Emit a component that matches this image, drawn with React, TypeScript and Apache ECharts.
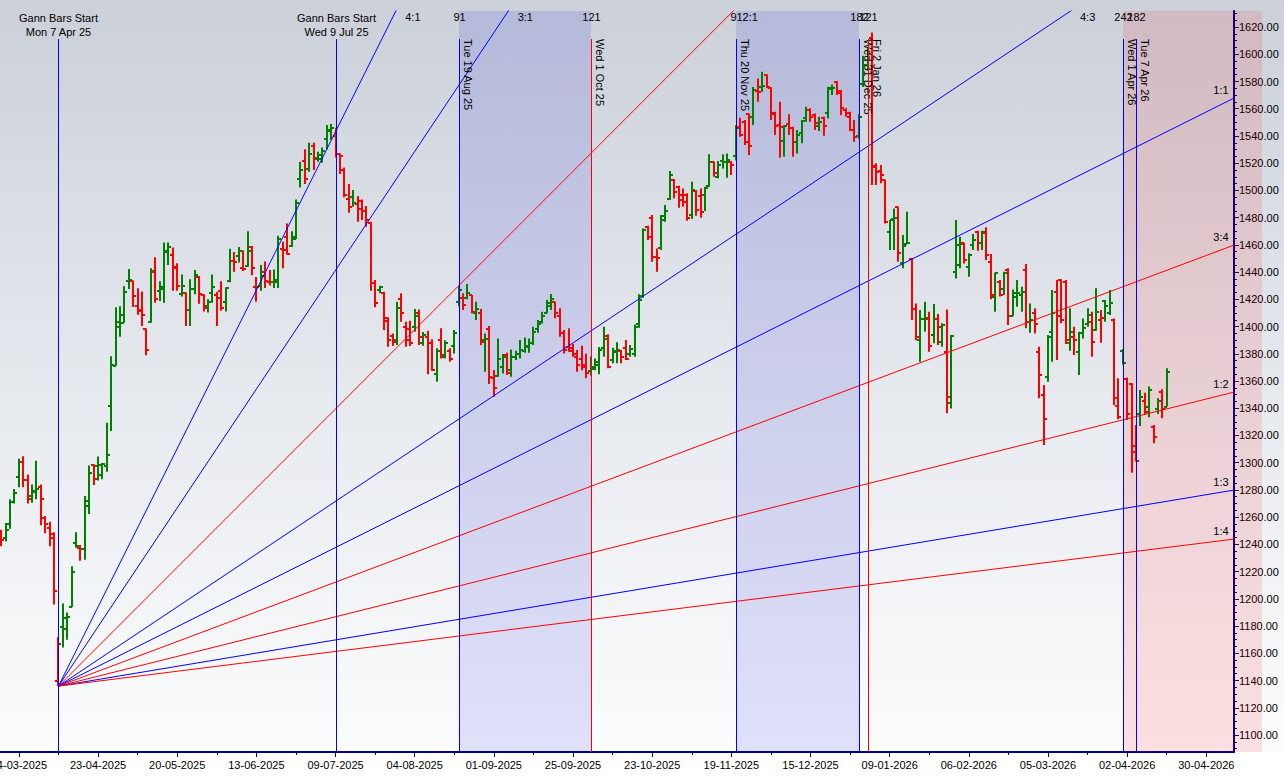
import React, { useEffect, useRef } from "react";
import * as echarts from "echarts";

// ---------- data ----------
const tickLabels = [
  "24-03-2025", "23-04-2025", "20-05-2025", "13-06-2025", "09-07-2025", "04-08-2025",
  "01-09-2025", "25-09-2025", "23-10-2025", "19-11-2025", "15-12-2025", "09-01-2026",
  "06-02-2026", "05-03-2026", "02-04-2026", "30-04-2026",
];
const tickIndex = [4, 22, 40, 58, 76, 94, 112, 130, 148, 166, 184, 202, 220, 238, 256, 274];
const minorTickIndex = [13, 31, 49, 67, 85, 103, 121, 139, 157, 175, 193, 211, 229, 247, 265];

// one bar per trading day starting 18-03-2025 : [open, high, low, close]
const ohlc: number[][] = [
  [1249.8, 1250.8, 1238.6, 1243.2], [1244.7, 1255.8, 1242.2, 1250.8], [1255.3, 1273.1, 1251.5, 1271.0],
  [1271.0, 1280.7, 1270.0, 1277.6], [1289.5, 1302.9, 1281.9, 1300.4], [1300.4, 1304.7, 1281.9, 1287.0],
  [1287.0, 1291.3, 1270.0, 1273.6], [1275.6, 1284.0, 1270.5, 1278.6], [1279.4, 1301.4, 1273.1, 1280.7],
  [1281.9, 1284.0, 1254.1, 1273.1], [1259.1, 1260.9, 1248.2, 1255.3], [1252.3, 1256.6, 1238.6, 1244.7],
  [1247.7, 1249.0, 1195.8, 1206.0], [1140.0, 1172.0, 1136.0, 1167.0], [1179.3, 1196.6, 1164.2, 1185.7],
  [1178.0, 1190.0, 1170.0, 1187.0], [1194.0, 1224.0, 1194.0, 1220.0], [1241.0, 1249.0, 1237.6, 1239.0],
  [1237.6, 1239.6, 1228.0, 1236.3], [1236.3, 1275.6, 1228.7, 1271.8], [1268.5, 1297.9, 1262.4, 1292.8],
  [1298.4, 1298.9, 1283.7, 1288.3], [1297.6, 1304.5, 1287.0, 1298.4], [1290.8, 1299.7, 1287.8, 1299.0],
  [1297.6, 1329.3, 1293.3, 1306.0], [1341.5, 1378.2, 1323.2, 1371.9], [1371.3, 1414.2, 1371.3, 1403.5],
  [1399.7, 1414.9, 1392.6, 1408.6], [1402.8, 1429.6, 1402.8, 1425.1], [1433.2, 1442.3, 1427.6, 1433.9],
  [1433.2, 1433.9, 1414.4, 1422.5], [1414.9, 1428.1, 1408.6, 1411.9], [1411.1, 1425.8, 1400.5, 1408.6],
  [1398.2, 1398.5, 1379.0, 1382.5], [1403.5, 1442.8, 1402.8, 1440.8], [1440.3, 1450.9, 1417.5, 1420.5],
  [1426.3, 1433.2, 1418.7, 1427.6], [1428.9, 1461.8, 1417.5, 1454.9], [1455.4, 1461.8, 1445.3, 1458.5],
  [1452.9, 1458.0, 1426.3, 1443.3], [1444.0, 1446.6, 1426.3, 1429.6], [1423.8, 1438.2, 1422.0, 1430.1],
  [1424.5, 1425.1, 1400.5, 1412.4], [1411.9, 1434.7, 1400.5, 1427.6], [1427.6, 1441.5, 1423.8, 1437.7],
  [1436.4, 1437.2, 1416.7, 1423.8], [1423.0, 1423.8, 1411.1, 1413.6], [1414.9, 1420.0, 1410.4, 1418.2],
  [1424.5, 1438.2, 1417.5, 1428.9], [1423.0, 1425.6, 1400.5, 1421.3], [1426.3, 1433.2, 1411.6, 1413.6],
  [1418.0, 1428.9, 1411.1, 1428.1], [1433.2, 1457.2, 1432.6, 1447.8], [1447.8, 1454.7, 1440.3, 1447.1],
  [1451.7, 1458.5, 1447.1, 1455.4], [1442.8, 1456.0, 1440.8, 1442.3], [1444.8, 1470.1, 1444.0, 1455.4],
  [1458.5, 1459.2, 1437.7, 1443.3], [1428.9, 1436.4, 1418.2, 1428.9], [1429.6, 1445.3, 1426.3, 1437.2],
  [1440.3, 1447.8, 1428.4, 1433.2], [1432.6, 1441.5, 1430.1, 1432.6], [1432.6, 1442.0, 1428.4, 1433.9],
  [1432.6, 1466.8, 1428.4, 1464.3], [1456.7, 1462.3, 1442.8, 1456.0], [1465.6, 1475.7, 1452.9, 1453.4],
  [1459.2, 1470.1, 1458.5, 1466.1], [1464.3, 1493.4, 1464.3, 1490.9], [1508.1, 1521.1, 1502.2, 1515.0],
  [1521.8, 1530.2, 1504.7, 1508.1], [1516.0, 1535.1, 1513.7, 1527.0], [1533.0, 1535.1, 1515.0, 1523.0],
  [1524.0, 1528.4, 1521.1, 1526.0], [1523.0, 1531.6, 1520.4, 1529.0], [1537.5, 1548.0, 1530.2, 1544.4],
  [1544.0, 1548.8, 1537.0, 1546.0], [1540.0, 1546.0, 1524.0, 1527.0], [1527.0, 1527.2, 1512.0, 1525.0],
  [1515.0, 1516.9, 1494.9, 1497.0], [1494.0, 1504.7, 1483.6, 1488.0], [1495.0, 1500.3, 1488.0, 1491.0],
  [1490.0, 1495.9, 1477.0, 1486.0], [1492.0, 1493.4, 1478.3, 1485.0], [1485.0, 1488.5, 1473.3, 1478.0],
  [1476.0, 1477.0, 1426.4, 1432.0], [1432.0, 1434.2, 1414.1, 1417.0], [1426.8, 1430.0, 1424.4, 1429.3],
  [1425.0, 1425.6, 1397.5, 1406.0], [1404.0, 1406.8, 1385.2, 1390.0], [1393.0, 1395.0, 1385.7, 1388.5],
  [1390.0, 1418.3, 1386.4, 1414.0], [1420.0, 1424.4, 1403.5, 1410.0], [1400.0, 1403.5, 1385.2, 1390.0],
  [1398.0, 1404.3, 1385.7, 1388.0], [1400.0, 1412.9, 1396.2, 1408.0], [1410.0, 1412.6, 1386.4, 1392.0],
  [1388.0, 1396.0, 1386.0, 1394.0], [1392.0, 1397.0, 1365.0, 1388.0], [1388.0, 1390.6, 1367.6, 1368.0],
  [1365.0, 1384.0, 1359.5, 1382.0], [1390.0, 1398.7, 1376.6, 1379.0], [1378.0, 1390.0, 1376.6, 1388.0],
  [1382.0, 1384.0, 1374.2, 1376.0], [1386.0, 1397.5, 1380.3, 1395.0], [1418.0, 1430.0, 1415.0, 1427.0],
  [1421.0, 1424.4, 1412.2, 1415.8], [1420.7, 1431.2, 1420.0, 1424.4], [1423.0, 1423.2, 1409.7, 1411.0],
  [1410.0, 1418.3, 1404.8, 1413.0], [1410.0, 1412.9, 1386.5, 1389.0], [1390.0, 1395.0, 1366.9, 1391.0],
  [1398.0, 1400.4, 1357.8, 1363.0], [1362.0, 1368.1, 1348.5, 1355.0], [1364.0, 1391.3, 1363.2, 1376.0],
  [1370.0, 1379.8, 1365.6, 1378.0], [1379.0, 1380.8, 1364.4, 1366.0], [1368.0, 1383.2, 1363.2, 1378.0],
  [1378.0, 1382.3, 1375.4, 1380.0], [1380.0, 1390.1, 1376.6, 1383.0], [1382.0, 1392.0, 1380.8, 1386.0],
  [1385.0, 1391.3, 1380.8, 1388.0], [1388.0, 1399.9, 1386.4, 1396.0], [1398.0, 1404.8, 1395.5, 1402.0],
  [1403.0, 1410.9, 1402.3, 1408.0], [1410.0, 1419.5, 1409.7, 1417.0], [1415.0, 1423.9, 1412.2, 1420.0],
  [1418.0, 1418.3, 1406.1, 1410.0], [1408.0, 1413.4, 1392.6, 1395.0], [1395.0, 1397.4, 1380.3, 1383.0],
  [1385.0, 1398.7, 1381.5, 1382.0], [1384.0, 1387.2, 1377.9, 1380.0], [1378.0, 1382.8, 1366.9, 1372.0],
  [1376.0, 1386.0, 1368.0, 1370.0], [1372.0, 1380.0, 1362.0, 1366.0], [1367.0, 1378.0, 1364.0, 1369.0],
  [1370.0, 1376.6, 1368.0, 1374.0], [1372.0, 1385.0, 1365.0, 1383.0], [1384.0, 1399.9, 1377.9, 1391.0],
  [1393.0, 1394.3, 1369.3, 1370.5], [1375.4, 1384.5, 1373.0, 1382.0], [1381.5, 1388.4, 1373.0, 1383.0],
  [1382.0, 1382.8, 1373.0, 1377.9], [1384.0, 1390.1, 1375.4, 1376.0], [1379.6, 1386.4, 1377.9, 1383.5],
  [1379.6, 1401.6, 1377.9, 1399.9], [1401.6, 1423.7, 1399.2, 1419.5], [1422.7, 1472.1, 1421.2, 1470.9],
  [1473.4, 1474.1, 1463.6, 1466.0], [1479.5, 1481.9, 1447.7, 1451.3], [1451.3, 1457.4, 1440.3, 1450.6],
  [1457.4, 1481.9, 1456.2, 1481.5], [1478.3, 1489.3, 1477.0, 1484.9], [1493.7, 1514.2, 1492.9, 1511.3],
  [1507.6, 1508.4, 1494.2, 1499.1], [1502.7, 1503.5, 1487.3, 1496.6], [1493.0, 1501.5, 1488.1, 1491.7],
  [1496.6, 1497.9, 1477.8, 1479.9], [1481.9, 1506.4, 1479.0, 1500.3], [1499.6, 1500.3, 1481.4, 1485.6],
  [1496.0, 1501.5, 1480.0, 1484.4], [1496.6, 1502.7, 1484.9, 1501.5], [1503.5, 1526.5, 1502.7, 1521.1],
  [1520.6, 1521.1, 1510.1, 1512.5], [1510.1, 1521.6, 1508.9, 1518.7], [1521.6, 1526.5, 1516.2, 1521.1],
  [1520.6, 1527.2, 1509.4, 1522.0], [1521.1, 1521.6, 1511.3, 1518.7], [1525.0, 1548.0, 1522.0, 1546.0],
  [1546.8, 1553.4, 1539.5, 1540.7], [1550.5, 1551.7, 1533.3, 1535.3], [1555.9, 1556.6, 1526.0, 1533.0],
  [1554.0, 1576.0, 1548.0, 1574.0], [1573.0, 1582.3, 1565.2, 1572.5], [1576.0, 1587.2, 1572.5, 1577.0],
  [1585.0, 1585.2, 1575.0, 1575.7], [1575.0, 1575.7, 1551.7, 1556.6], [1555.9, 1557.8, 1540.7, 1547.5],
  [1548.0, 1565.2, 1524.0, 1546.8], [1536.3, 1548.0, 1524.8, 1547.0], [1548.5, 1555.9, 1540.7, 1545.6],
  [1546.0, 1546.8, 1524.8, 1535.3], [1535.3, 1544.4, 1527.2, 1540.7], [1542.0, 1551.7, 1534.6, 1551.0],
  [1553.4, 1561.5, 1550.5, 1559.0], [1559.0, 1560.3, 1550.5, 1554.1], [1555.4, 1556.6, 1544.4, 1549.2],
  [1547.5, 1554.1, 1543.6, 1550.5], [1553.4, 1554.1, 1540.2, 1547.5], [1556.6, 1576.2, 1552.9, 1574.5],
  [1575.0, 1577.9, 1570.1, 1575.5], [1579.9, 1580.4, 1570.1, 1571.3], [1573.0, 1573.7, 1555.4, 1560.3],
  [1559.3, 1560.3, 1554.1, 1556.6], [1554.1, 1557.8, 1543.6, 1544.4], [1544.4, 1551.7, 1535.8, 1539.5],
  [1540.0, 1556.0, 1538.0, 1554.0], [1578.0, 1599.0, 1576.0, 1592.0], [1592.0, 1605.0, 1588.0, 1600.0],
  [1612.0, 1616.0, 1504.0, 1517.0], [1517.9, 1520.0, 1504.0, 1513.8], [1514.5, 1518.7, 1505.2, 1511.3],
  [1507.6, 1508.1, 1475.8, 1477.0], [1469.7, 1478.3, 1456.2, 1478.0], [1478.7, 1486.8, 1456.2, 1479.4],
  [1488.0, 1488.1, 1447.7, 1453.8], [1446.4, 1467.2, 1442.8, 1459.1], [1460.6, 1484.4, 1460.6, 1461.1],
  [1449.4, 1450.1, 1404.8, 1412.6], [1412.6, 1417.0, 1390.0, 1392.0], [1390.1, 1412.2, 1374.2, 1405.3],
  [1405.3, 1418.3, 1396.2, 1406.0], [1405.3, 1410.9, 1381.5, 1385.7], [1393.8, 1416.6, 1387.7, 1405.3],
  [1405.3, 1409.2, 1386.4, 1399.4], [1388.9, 1402.4, 1385.2, 1401.1], [1381.5, 1412.6, 1336.3, 1348.5],
  [1343.6, 1393.8, 1339.9, 1393.0], [1440.3, 1478.3, 1435.4, 1459.9], [1445.2, 1466.0, 1442.8, 1461.0],
  [1461.1, 1461.6, 1446.4, 1448.9], [1444.0, 1453.8, 1436.6, 1452.5], [1460.0, 1468.0, 1456.2, 1463.6],
  [1469.7, 1470.4, 1455.7, 1461.1], [1461.1, 1470.4, 1456.2, 1469.7], [1468.4, 1472.9, 1448.9, 1452.5],
  [1447.7, 1453.3, 1420.0, 1423.2], [1422.0, 1439.6, 1410.9, 1439.1], [1433.0, 1434.2, 1422.0, 1423.2],
  [1427.3, 1440.3, 1423.2, 1439.6], [1441.5, 1442.8, 1401.1, 1407.7], [1407.7, 1427.3, 1407.7, 1424.4],
  [1422.0, 1434.2, 1414.6, 1424.9], [1423.0, 1429.3, 1410.9, 1425.5], [1441.5, 1445.9, 1398.7, 1403.6],
  [1403.6, 1417.0, 1395.5, 1404.8], [1409.7, 1413.4, 1395.0, 1402.0], [1381.5, 1385.2, 1347.3, 1364.4],
  [1349.7, 1357.1, 1313.0, 1331.8], [1363.2, 1393.8, 1359.5, 1392.6], [1396.2, 1426.8, 1374.2, 1409.7],
  [1425.6, 1434.2, 1375.4, 1408.0], [1434.2, 1434.7, 1402.4, 1404.6], [1433.0, 1434.2, 1387.2, 1390.1],
  [1387.7, 1413.4, 1382.3, 1396.2], [1392.6, 1399.9, 1379.1, 1390.1], [1381.5, 1396.2, 1364.4, 1395.5],
  [1395.5, 1406.0, 1391.3, 1398.7], [1401.9, 1413.4, 1399.9, 1408.5], [1403.6, 1410.9, 1377.9, 1388.9],
  [1397.5, 1428.1, 1397.0, 1410.9], [1404.8, 1412.2, 1388.2, 1406.0], [1419.0, 1419.5, 1403.6, 1415.1],
  [1410.2, 1426.8, 1408.5, 1417.0], [1404.8, 1406.0, 1342.4, 1347.3], [1341.6, 1362.0, 1331.9, 1333.3],
  [1382.0, 1383.5, 1372.0, 1373.0], [1361.2, 1362.5, 1331.4, 1336.0], [1357.8, 1358.3, 1292.7, 1312.3],
  [1308.0, 1327.7, 1300.8, 1301.0], [1335.8, 1353.4, 1326.9, 1348.5], [1345.6, 1351.4, 1335.8, 1337.5],
  [1341.2, 1355.9, 1333.3, 1353.4], [1326.0, 1327.7, 1314.2, 1318.6], [1339.2, 1347.3, 1335.8, 1345.0],
  [1352.2, 1353.9, 1332.6, 1339.2], [1341.2, 1369.3, 1341.2, 1366.9],
];

// Gann fan
const fanOriginIndex = 13;
const fanOriginPrice = 1135.9;
const fanUnit = 1.616; // price per bar of the 1:1 line
const fanNames = ["4:1", "3:1", "2:1", "4:3", "1:1", "3:4", "1:2", "1:3", "1:4"];
const fanRatios = [4, 3, 2, 4 / 3, 1, 0.75, 0.5, 1 / 3, 0.25];
const fanColors = ["#0000ff", "#0000ff", "#ff0000", "#0000ff", "#0000ff", "#ff0000", "#ff0000", "#0000ff", "#ff0000"];

// vertical markers
const markerIndex = [13, 76, 104, 134, 167, 195, 197, 255, 258];
const markerLabel = ["Mon 7 Apr 25", "Wed 9 Jul 25", "Tue 19 Aug 25", "Wed 1 Oct 25", "Thu 20 Nov 25",
  "Wed 31 Dec 25", "Fri 2 Jan 26", "Wed 1 Apr 26", "Tue 7 Apr 26"];
const markerCount = ["", "", "91", "121", "91", "182", "121", "242", "182"];
const markerIsStart = [1, 1, 0, 0, 0, 0, 0, 0, 0];
const markerColors = ["#0000ff", "#0000ff", "#0000ff", "#ff0000", "#0000ff", "#0000ff", "#ff0000", "#0000ff", "#0000ff"];

// shaded time zones
const zoneFrom = [104, 167, 255];
const zoneTo = [134, 195, 281];
const zoneKind = [0, 0, 1];

// y ticks
const yLabels = [1100, 1120, 1140, 1160, 1180, 1200, 1220, 1240, 1260, 1280, 1300, 1320, 1340, 1360,
  1380, 1400, 1420, 1440, 1460, 1480, 1500, 1520, 1540, 1560, 1580, 1600, 1620];

const X_MIN = -0.296;
const X_MAX = 280.3;
const Y_MIN = 1087.5;
const Y_MAX = 1631.8;
const FONT = "'Liberation Sans', Arial, sans-serif";
const FS = 11;
const GREEN = "#008000";
const RED = "#ff0000";

export default function App() {
  const ref = useRef<HTMLDivElement>(null);
  useEffect(() => {
    if (!ref.current) return;
    const chart = echarts.init(ref.current, undefined, { renderer: "svg" });

    const barData = ohlc.map((d, i) => {
      const prev = i === 0 ? d[0] : ohlc[i - 1][3];
      return [i, d[0], d[1], d[2], d[3], d[3] >= prev ? 1 : 0];
    });

    const minorY: number[] = [];
    for (let v = 1090; v <= 1630; v += 5) minorY.push(v);

    const fanSeries = fanNames.map((n, k) => ({
      type: "line",
      name: n,
      data: [
        [fanOriginIndex, fanOriginPrice],
        [X_MAX, fanOriginPrice + fanRatios[k] * fanUnit * (X_MAX - fanOriginIndex)],
      ],
      symbol: "none",
      clip: true,
      silent: true,
      z: 4,
      lineStyle: { color: fanColors[k], width: 1 },
    }));

    const txt = (text: string, x: number, y: number, align = "center", extra: any = {}) => ({
      type: "text", x, y, ...extra,
      style: { text, fill: "#000", font: `${FS}px ${FONT}`, textAlign: align, textVerticalAlign: "middle" },
    });

    const option: any = {
      animation: false,
      backgroundColor: {
        type: "linear", x: 0, y: 0, x2: 0, y2: 1,
        colorStops: [
          { offset: 0, color: "#cbd0d9" },
          { offset: 0.5, color: "#e6e9ee" },
          { offset: 0.965, color: "#fbfcfd" },
          { offset: 0.97, color: "#ffffff" },
          { offset: 1, color: "#ffffff" },
        ],
      },
      grid: { left: 0, top: 11, width: 1234, height: 741, containLabel: false, outerBoundsMode: "none" },
      xAxis: [
        {
          type: "value",
          min: X_MIN,
          max: X_MAX,
          splitLine: { show: false },
          axisLine: { show: true, onZero: false, lineStyle: { color: "#000080", width: 2 } },
          axisTick: { show: true, customValues: tickIndex, length: 5, lineStyle: { color: "#000080" } },
          minorTick: { show: false },
          axisLabel: {
            customValues: tickIndex,
            formatter: (v: number) => tickLabels[tickIndex.indexOf(Math.round(v))] || "",
            color: "#000",
            fontFamily: FONT,
            fontSize: FS,
            margin: 7,
          },
        },
        {
          type: "value",
          position: "bottom",
          min: X_MIN,
          max: X_MAX,
          splitLine: { show: false },
          axisLine: { show: false, onZero: false },
          axisTick: { show: true, customValues: minorTickIndex, length: 3, lineStyle: { color: "#000080" } },
          axisLabel: { show: false },
        },
      ],
      yAxis: [
        {
          type: "value",
          position: "right",
          min: Y_MIN,
          max: Y_MAX,
          splitLine: { show: false },
          axisLine: { show: true, onZero: false, lineStyle: { color: "#000080", width: 2 } },
          axisTick: { show: true, customValues: yLabels, length: 5, lineStyle: { color: "#000080" } },
          axisLabel: {
            customValues: yLabels,
            formatter: (v: number) => v.toFixed(2),
            color: "#000",
            fontFamily: FONT,
            fontSize: FS,
            margin: 5,
          },
        },
        {
          type: "value",
          position: "right",
          min: Y_MIN,
          max: Y_MAX,
          splitLine: { show: false },
          axisLine: { show: false, onZero: false },
          axisTick: { show: true, customValues: minorY, length: 3, lineStyle: { color: "#000080" } },
          axisLabel: { show: false },
        },
      ],
      series: [
        {
          type: "custom",
          name: "zones",
          silent: true,
          z: 1,
          clip: false,
          data: zoneFrom.map((f, i) => [f, Y_MAX, i]),
          renderItem: (params: any, api: any) => {
            const i = api.value(2);
            const cs = params.coordSys;
            const x1 = Math.round(api.coord([zoneFrom[i], Y_MIN])[0]);
            const x2 = zoneKind[i] === 1 ? cs.x + cs.width + 28 : Math.round(api.coord([zoneTo[i], Y_MIN])[0]);
            return {
              type: "rect",
              shape: { x: x1, y: cs.y, width: x2 - x1, height: cs.height },
              style: { fill: zoneKind[i] === 1 ? "rgba(255,0,0,0.11)" : "rgba(0,0,220,0.11)" },
            };
          },
        },
        {
          type: "custom",
          name: "bars",
          silent: true,
          z: 3,
          clip: true,
          data: barData,
          encode: { x: 0, y: [1, 2, 3, 4] },
          renderItem: (params: any, api: any) => {
            const idx = api.value(0);
            const x = Math.round(api.coord([idx, api.value(1)])[0]);
            const yo = Math.round(api.coord([idx, api.value(1)])[1]);
            const yh = api.coord([idx, api.value(2)])[1];
            const yl = api.coord([idx, api.value(3)])[1];
            const yc = Math.round(api.coord([idx, api.value(4)])[1]);
            const color = api.value(5) ? GREEN : RED;
            return {
              type: "group",
              children: [
                { type: "line", shape: { x1: x, y1: yh, x2: x, y2: yl }, style: { stroke: color, lineWidth: 2 } },
                { type: "line", shape: { x1: x - 3, y1: yo, x2: x, y2: yo }, style: { stroke: color, lineWidth: 2 } },
                { type: "line", shape: { x1: x, y1: yc, x2: x + 3, y2: yc }, style: { stroke: color, lineWidth: 2 } },
              ],
            };
          },
        },
        ...fanSeries,
        {
          type: "custom",
          name: "fanLabels",
          silent: true,
          z: 6,
          clip: false,
          data: fanNames.map((n, i) => [fanOriginIndex, fanOriginPrice, i]),
          renderItem: (params: any, api: any) => {
            const k = api.value(2);
            const cs = params.coordSys;
            const slope = fanRatios[k] * fanUnit;
            const tTop = fanOriginIndex + (Y_MAX - fanOriginPrice) / slope;
            if (tTop < X_MAX) {
              return txt(fanNames[k], api.coord([tTop, Y_MAX])[0] + 17, cs.y + 6);
            }
            const p = api.coord([X_MAX, fanOriginPrice + slope * (X_MAX - fanOriginIndex)]);
            return txt(fanNames[k], cs.x + cs.width - 13, p[1] - 8);
          },
        },
        {
          type: "custom",
          name: "markers",
          silent: true,
          z: 7,
          clip: false,
          data: markerIndex.map((m, i) => [m, Y_MAX, i]),
          renderItem: (params: any, api: any) => {
            const i = api.value(2);
            const cs = params.coordSys;
            const x = Math.round(api.coord([markerIndex[i], Y_MIN])[0]) + 0.5;
            const top = cs.y + 28;
            const children: any[] = [
              {
                type: "line",
                shape: { x1: x, y1: top, x2: x, y2: cs.y + cs.height },
                style: { stroke: markerColors[i], lineWidth: 1 },
              },
            ];
            if (markerCount[i]) children.push(txt(markerCount[i], x, cs.y + 6));
            if (markerIsStart[i]) {
              children.push(txt("Gann Bars Start", x, 18));
              children.push(txt(markerLabel[i], x, 32));
            } else {
              children.push(txt(markerLabel[i], x + 8, top, "left", { rotation: -Math.PI / 2 }));
            }
            return { type: "group", children };
          },
        },
      ],
    };
    chart.setOption(option);
    return () => chart.dispose();
  }, []);

  return (
    <div
      ref={ref}
      style={{ position: "fixed", left: 0, top: 0, width: 1284, height: 776 }}
    />
  );
}
